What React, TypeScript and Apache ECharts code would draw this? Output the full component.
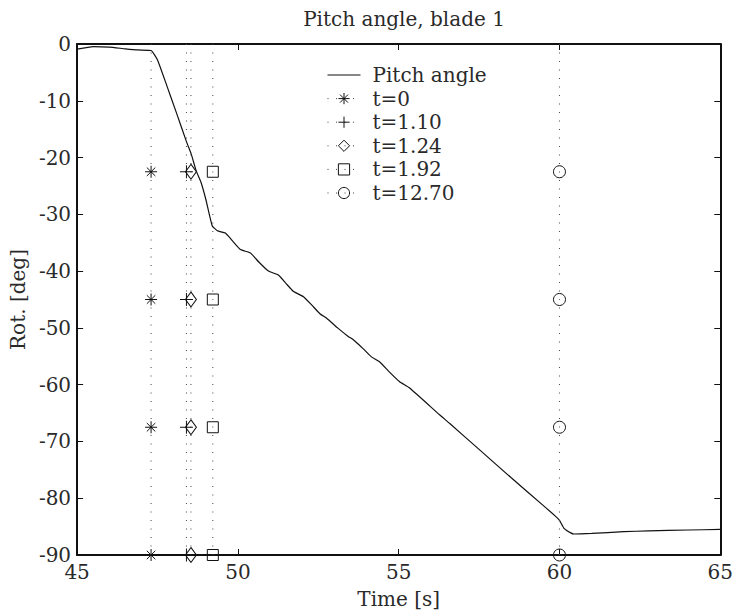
import React, { useEffect, useRef } from "react";
import * as echarts from "echarts";

// Blade 1 pitch angle trace (time in s, angle in deg)
const PITCH_TIME = [
  45, 45.5, 46, 46.5, 46.9, 47.3, 47.5, 47.8, 48.1, 48.4, 48.55, 48.7, 48.85, 49.0, 49.2,
  49.36, 49.61, 49.85, 50.08, 50.39, 50.65, 50.95, 51.26, 51.5, 51.73, 52.04, 52.3, 52.55,
  52.76, 53.1, 53.43, 53.59, 53.9, 54.15, 54.41, 54.7, 55.03, 55.34, 56.27, 56.58, 57.5,
  58.5, 59.5, 59.88, 60.0, 60.14, 60.35, 60.45, 61, 62, 62.77, 64, 65,
];
const PITCH_DEG = [
  -0.9, -0.45, -0.55, -0.85, -1.05, -1.15, -2.8, -7.5, -12.3, -17.2, -19.4, -22.3, -24.3, -27.3,
  -32.0, -32.9, -33.3, -34.8, -36.2, -36.8, -38.4, -40.0, -40.7, -42.2, -43.6, -44.5, -46.0,
  -47.5, -48.3, -50.0, -51.5, -52.1, -53.7, -55.1, -56.0, -57.7, -59.5, -60.6, -65.3, -66.8,
  -71.4, -76.4, -81.3, -83.2, -83.9, -85.3, -86.1, -86.3, -86.2, -85.9, -85.75, -85.6, -85.5,
];

// Event instants, measured from the start of the pitch manoeuvre
const EVENT_ORIGIN = 47.3;
const EVENT_OFFSETS = [0, 1.1, 1.24, 1.92, 12.7];
const EVENT_LABELS = ["t=0", "t=1.10", "t=1.24", "t=1.92", "t=12.70"];
const MARKER_LEVELS = [-22.5, -45, -67.5, -90];

const X_TICKS = [45, 50, 55, 60, 65];
const Y_TICKS = [0, -10, -20, -30, -40, -50, -60, -70, -80, -90];

const ASTERISK =
  "path://M0,5L10,5M5,0L5,10M1.46,1.46L8.54,8.54M1.46,8.54L8.54,1.46";
const PLUS = "path://M0,5L10,5M5,0L5,10";
const EVENT_SYMBOLS = [ASTERISK, PLUS, "diamond", "rect", "circle"];
const EVENT_SYMBOL_SIZES = [
  [12, 12],
  [13, 13],
  [11, 15],
  [11, 11],
  [12, 12],
];

const FONT = "DejaVu Serif";
const INK = "#111";

export default function App() {
  const ref = useRef<HTMLDivElement>(null);

  useEffect(() => {
    if (!ref.current) return;
    const chart = echarts.init(ref.current, undefined, { renderer: "svg" });

    const pitchSeries = {
      name: "Pitch angle",
      type: "line",
      data: PITCH_TIME.map((t, i) => [t, PITCH_DEG[i]]),
      symbol: "none",
      showSymbol: false,
      smooth: 0.15,
      lineStyle: { color: INK, width: 1.2 },
      itemStyle: { color: "transparent", borderColor: "transparent", borderWidth: 0 },
      z: 3,
    };

    const eventSeries = EVENT_OFFSETS.map((dt, k) => {
      const x = EVENT_ORIGIN + dt;
      return {
        name: EVENT_LABELS[k],
        type: "line",
        data: [
          { value: [x, Y_TICKS[0]], symbol: "none" },
          ...MARKER_LEVELS.map((y) => ({ value: [x, y] })),
        ],
        symbol: EVENT_SYMBOLS[k],
        symbolSize: EVENT_SYMBOL_SIZES[k],
        symbolKeepAspect: false,
        showSymbol: true,
        lineStyle: { color: "#444", width: 1, type: [1, 7.5] },
        itemStyle: { color: "transparent", borderColor: INK, borderWidth: 1 },
        z: 4,
      };
    });

    const tickFont = { fontFamily: FONT, fontSize: 20, color: "#2a2a2a" };

    chart.setOption({
      animation: false,
      backgroundColor: "#fff",
      title: {
        text: "Pitch angle, blade 1",
        left: 399,
        top: 4,
        textAlign: "center",
        textStyle: { fontFamily: FONT, fontSize: 20, fontWeight: "normal", color: "#2a2a2a" },
      },
      grid: { left: 76, top: 44, right: 14, bottom: 61, containLabel: false },
      legend: {
        orient: "vertical",
        left: 327,
        top: 65,
        padding: 0,
        itemWidth: 33,
        itemHeight: 14,
        itemGap: 3.6,
        selectedMode: false,
        data: ["Pitch angle", ...EVENT_LABELS],
        itemStyle: { borderWidth: 1 },
        lineStyle: { width: 1 },
        textStyle: { ...tickFont, lineHeight: 20, padding: [0, 0, 0, 7] },
      },
      xAxis: [
        {
          type: "value",
          min: X_TICKS[0],
          max: X_TICKS[X_TICKS.length - 1],
          interval: 5,
          name: "Time [s]",
          nameLocation: "middle",
          nameGap: 34,
          nameTextStyle: tickFont,
          axisLine: { show: true, onZero: false, lineStyle: { color: INK, width: 2 } },
          axisTick: { show: true, inside: true, length: 6, lineStyle: { color: INK, width: 1 } },
          axisLabel: { ...tickFont, margin: 7 },
          splitLine: { show: false },
        },
        {
          type: "value",
          position: "top",
          min: X_TICKS[0],
          max: X_TICKS[X_TICKS.length - 1],
          interval: 5,
          axisLine: { show: true, onZero: false, lineStyle: { color: INK, width: 2 } },
          axisTick: { show: true, inside: true, length: 6, lineStyle: { color: INK, width: 1 } },
          axisLabel: { show: false },
          splitLine: { show: false },
        },
      ],
      yAxis: [
        {
          type: "value",
          min: Y_TICKS[Y_TICKS.length - 1],
          max: Y_TICKS[0],
          interval: 10,
          name: "Rot. [deg]",
          nameLocation: "middle",
          nameGap: 46,
          nameTextStyle: tickFont,
          axisLine: { show: true, onZero: false, lineStyle: { color: INK, width: 2 } },
          axisTick: { show: true, inside: true, length: 6, lineStyle: { color: INK, width: 1 } },
          axisLabel: { ...tickFont, margin: 6, padding: [6, 0, 0, 0] },
          splitLine: { show: false },
        },
        {
          type: "value",
          position: "right",
          min: Y_TICKS[Y_TICKS.length - 1],
          max: Y_TICKS[0],
          interval: 10,
          axisLine: { show: true, onZero: false, lineStyle: { color: INK, width: 2 } },
          axisTick: { show: true, inside: true, length: 6, lineStyle: { color: INK, width: 1 } },
          axisLabel: { show: false },
          splitLine: { show: false },
        },
      ],
      series: [pitchSeries, ...eventSeries],
    });

    return () => chart.dispose();
  }, []);

  return (
    <div
      ref={ref}
      style={{ position: "fixed", left: 0, top: 0, width: 736, height: 616, background: "#fff" }}
    />
  );
}
